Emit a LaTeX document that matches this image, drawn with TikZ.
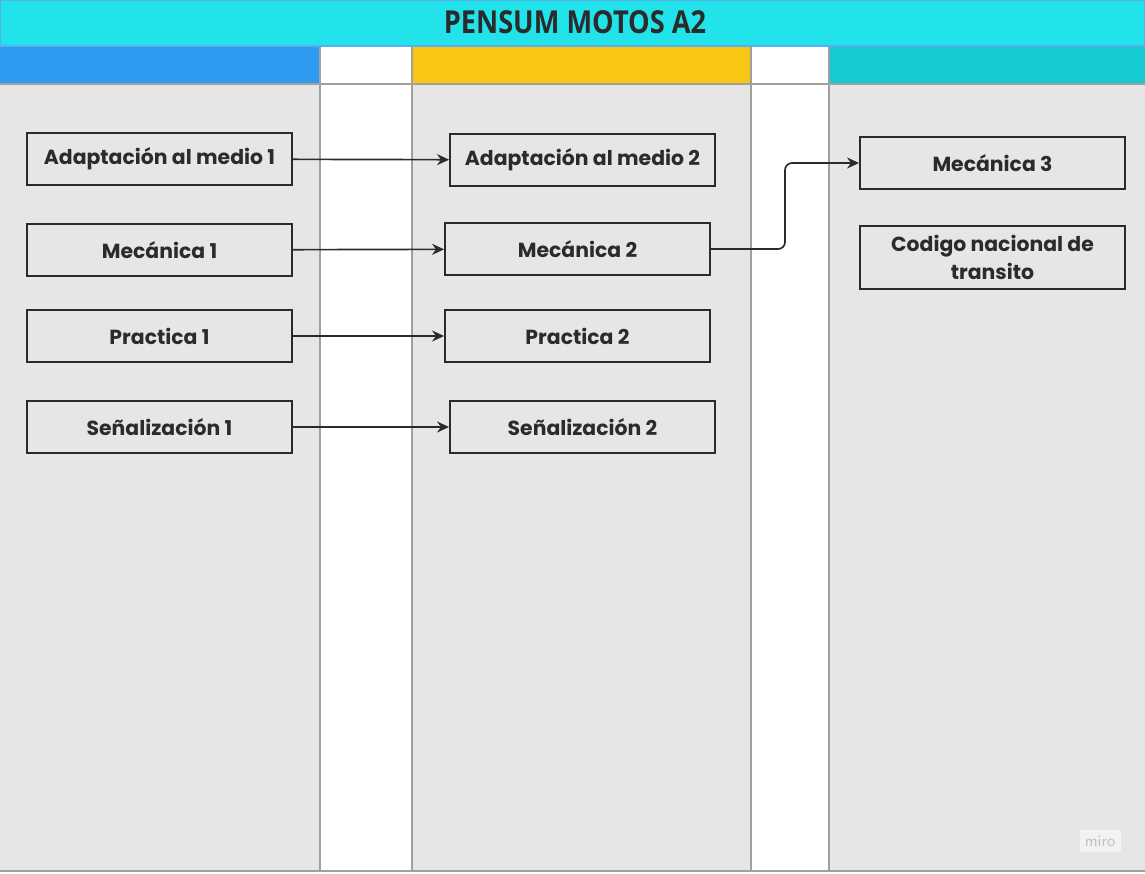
\documentclass[tikz,border=0pt]{standalone}
\usepackage{fontspec}
\setmainfont{Poppins}
\newfontfamily\titlefont[FakeStretch=0.86]{Open Sans}
\usetikzlibrary{arrows.meta, positioning, calc}
\definecolor{pmcyan}{RGB}{34,226,234}
\definecolor{pmblue}{RGB}{45,155,239}
\definecolor{pmyellow}{RGB}{249,199,19}
\definecolor{pmteal}{RGB}{20,203,212}
\definecolor{pmgray}{RGB}{230,230,230}
\definecolor{pmline}{RGB}{160,160,160}
\definecolor{pmdark}{RGB}{43,43,43}

\begin{document}
\begin{tikzpicture}[x=0.02cm, y=-0.02cm,
  course/.style={rectangle, draw=pmdark, line width=1.1pt, fill=pmgray, minimum width=5.3cm, minimum height=1.04cm, align=center, font=\fontsize{11.6}{16}\selectfont\bfseries, text=pmdark},
  arrow/.style={-{Stealth[length=2.4mm, width=2.2mm]}, line width=0.95pt, draw=pmdark}
]
\useasboundingbox (0,0) rectangle (1145,873);
% columns
\fill[white] (0,0) rectangle (1145,873);
\fill[pmgray] (0,84) rectangle (320,871);
\fill[pmgray] (412,84) rectangle (751,871);
\fill[pmgray] (829,84) rectangle (1145,871);
\fill[pmblue] (0,46) rectangle (320,84);
\fill[pmyellow] (412,46) rectangle (751,84);
\fill[pmteal] (829,46) rectangle (1145,84);
\foreach \x in {320,412,751,829}
  \draw[pmline, line width=0.6pt] (\x,46) -- (\x,871);
\draw[pmline, line width=1pt] (0,84) -- (1145,84);
\draw[pmline, line width=1.2pt] (0,871) -- (1145,871);
% header
\draw[fill=pmcyan, draw=pmblue!80, line width=0.8pt] (0.5,0.5) rectangle (1144.5,46);
\node[font=\titlefont\fontsize{18}{21}\selectfont\bfseries, text=pmdark] (title) at (575,22.5) {PENSUM MOTOS A2};

% first column
\node[course] (adap1) at (159.5,159) {Adaptación al medio 1};
\node[course] (meca1) at (159.5,250) {Mecánica 1};
\node[course] (prac1) at (159.5,336) {Practica 1};
\node[course] (senal1) at (159.5,427) {Señalización 1};
% second column
\node[course] (adap2) at (582.5,160) {Adaptación al medio 2};
\node[course] (meca2) at (577.5,249) {Mecánica 2};
\node[course] (prac2) at (577.5,336) {Practica 2};
\node[course] (senal2) at (582.5,427) {Señalización 2};
% third column
\node[course] (meca3) at (992.5,163) {Mecánica 3};
\node[course, minimum height=1.26cm] (codigo) at (992.5,257.5) {Codigo nacional de\\transito};

\draw[arrow] (adap1) -- (adap2);
\draw[arrow] (meca1) -- (meca2);
\draw[arrow] (prac1) -- (prac2);
\draw[arrow] (senal1) -- (senal2);
\draw[arrow, rounded corners=4pt] (meca2.east) -- (785,249) -- (785,163) -- (meca3.west);

\node[font=\sffamily\small, text=black!25, fill=black!5, inner sep=3pt] (miro) at (1100,841) {miro};
\end{tikzpicture}
\end{document}
